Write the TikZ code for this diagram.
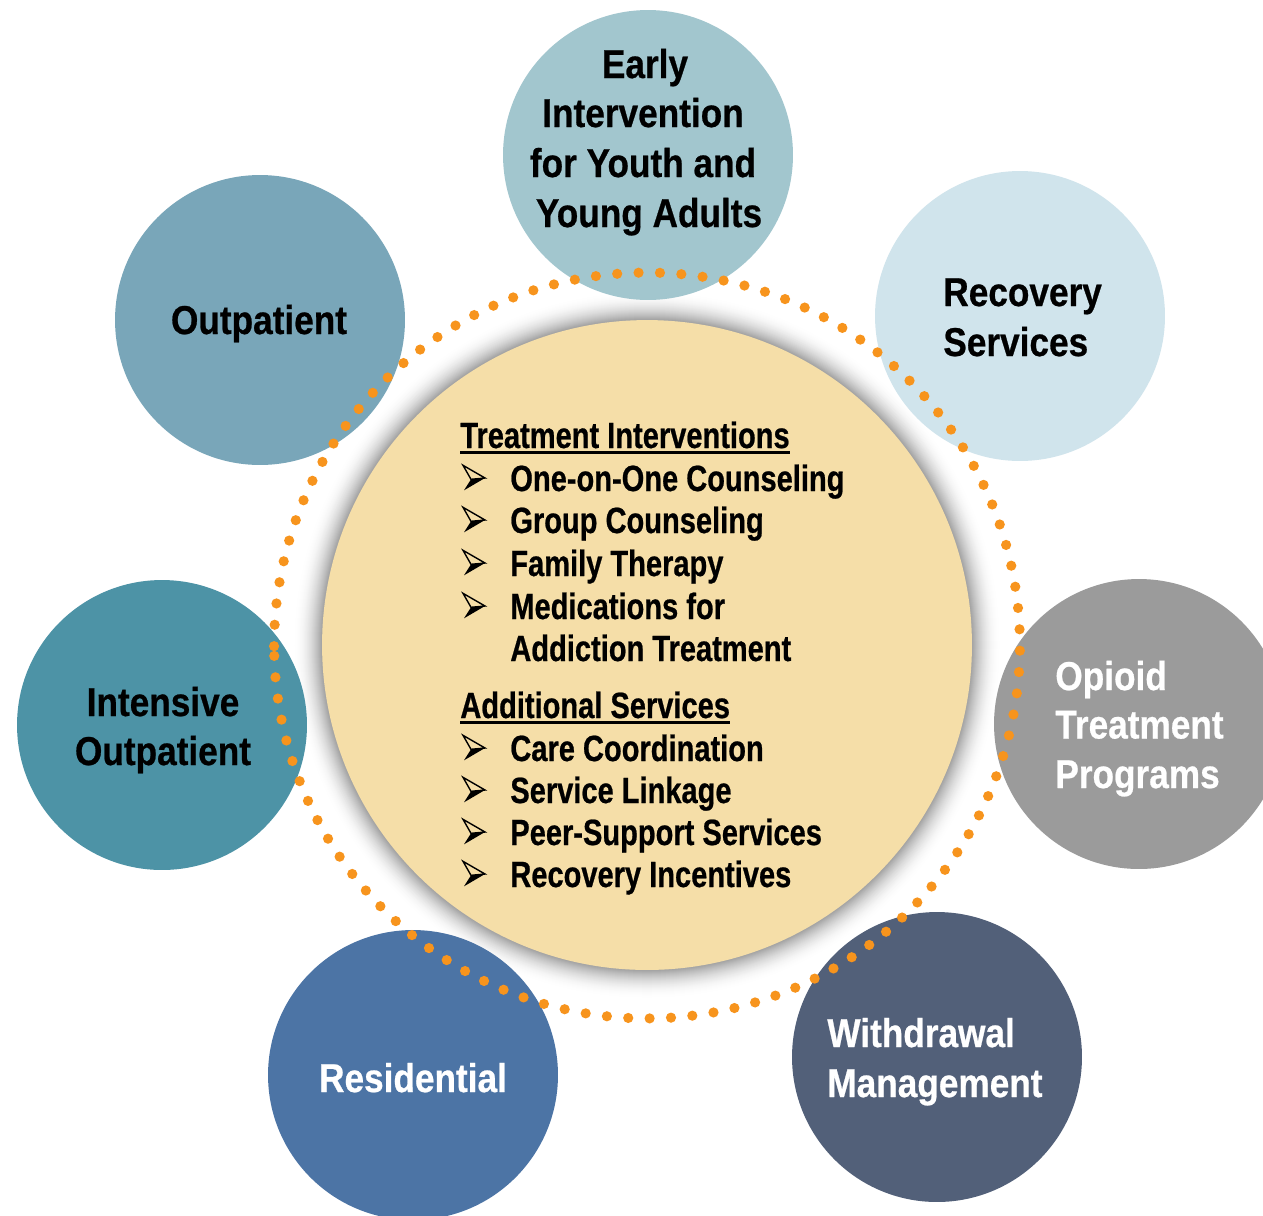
\documentclass[tikz,border=0pt]{standalone}
\usepackage{fontspec}
\newfontfamily\cenfont{Liberation Sans}[FakeStretch=0.795, FakeBold=0.6]
\newfontfamily\outfont{Liberation Sans}[FakeStretch=0.875, FakeBold=0.6]
\definecolor{cEarly}{HTML}{A2C6CE}
\definecolor{cRecov}{HTML}{D0E4EC}
\definecolor{cOpioid}{HTML}{9B9B9B}
\definecolor{cWithdr}{HTML}{526079}
\definecolor{cResid}{HTML}{4C74A5}
\definecolor{cIntens}{HTML}{4D93A6}
\definecolor{cOutp}{HTML}{79A6B9}
\definecolor{cCenter}{HTML}{F5DEA8}
\definecolor{cDot}{HTML}{F7941D}
\begin{document}
\begin{tikzpicture}[x=0.02cm,y=-0.02cm,
  outcirc/.style={circle, inner sep=0pt, minimum size=5.8cm},
  centext/.style={font=\cenfont\bfseries\fontsize{20.8}{24}\selectfont, inner sep=0pt, anchor=base west, text=black},
  outtext/.style={font=\outfont\bfseries\fontsize{22.9}{27}\selectfont, inner sep=0pt, anchor=base},
  outtextl/.style={outtext, anchor=base west},
  arrbullet/.pic={
    \fill[black] (-14,1.3) -- (-21,12.3) -- (0,0) -- cycle;
    \draw[black, line width=0.8pt, line join=miter] (0,0) -- (-22,-12.7) -- (-14,1.3) -- cycle;
  }]
\useasboundingbox (0,0) rectangle (1263,1215);
\clip (0,0) rectangle (1263,1215);
\fill[white] (0,0) rectangle (1263,1215);
% glow around the central circle
\foreach \d in {28,27,...,1} {
  \pgfmathsetmacro\p{38*(1-\d/29)^2}
  \pgfmathsetmacro\rr{(325+\d)*0.02}
  \fill[black!\p!white] (647,645) circle[radius=\rr cm];
}
\node[circle, inner sep=0pt, minimum size=13cm, fill=cCenter] (center) at (647,645) {};
% outer circles
\node[outcirc, fill=cEarly]  (early)  at (648,155) {};
\node[outcirc, fill=cRecov]  (recov)  at (1020,316) {};
\node[outcirc, fill=cOpioid] (opioid) at (1139,724) {};
\node[outcirc, fill=cWithdr] (withdr) at (937,1057) {};
\node[outcirc, fill=cResid]  (resid)  at (413,1075) {};
\node[outcirc, fill=cIntens] (intens) at (162,725) {};
\node[outcirc, fill=cOutp]   (outp)   at (260,320) {};
% dotted ring
\coordinate (ring) at (647,645.5);
\foreach \k in {0,...,109} {
  \pgfmathsetmacro\a{180.1-\k*3.289}
  \fill[cDot] (ring) ++(\a:7.46cm) circle[radius=0.102cm];
}
% outer texts
\node[outtext] (e1) at (645,78) {Early};
\node[outtext] (e2) at (643,127) {Intervention};
\node[outtext] (e3) at (643,177) {for Youth and};
\node[outtext] (e4) at (649,227) {Young Adults};
\node[outtextl] (r1) at (943,306) {Recovery};
\node[outtextl] (r2) at (943,356) {Services};
\node[outtextl, text=white] (o1) at (1055,690) {Opioid};
\node[outtextl, text=white] (o2) at (1055,738.5) {Treatment};
\node[outtextl, text=white] (o3) at (1055,788) {Programs};
\node[outtextl, text=white] (w1) at (827,1047) {Withdrawal};
\node[outtextl, text=white] (w2) at (827,1097) {Management};
\node[outtext, text=white] (res) at (413,1092) {Residential};
\node[outtext] (i1) at (163,716) {Intensive};
\node[outtext] (i2) at (163,765) {Outpatient};
\node[outtext] (op) at (259,334) {Outpatient};
% central texts
\node[centext] (h1) at (460,448) {Treatment Interventions};
\draw[line width=0.06cm] ([yshift=-0.094cm]h1.base west) -- ([yshift=-0.094cm]h1.base east);
\node[centext] (t1) at (510,491) {One-on-One Counseling};
\node[centext] (t2) at (510,533) {Group Counseling};
\node[centext] (t3) at (510,576) {Family Therapy};
\node[centext] (t4) at (510,619) {Medications for};
\node[centext] (t5) at (510,661) {Addiction Treatment};
\node[centext] (h2) at (460,718) {Additional Services};
\draw[line width=0.06cm] ([yshift=-0.094cm]h2.base west) -- ([yshift=-0.094cm]h2.base east);
\node[centext] (a1) at (510,761) {Care Coordination};
\node[centext] (a2) at (510,803) {Service Linkage};
\node[centext] (a3) at (510,845) {Peer-Support Services};
\node[centext] (a4) at (510,887) {Recovery Incentives};
\foreach \y in {478,520,563,606,748,790,832,874} {
  \pic at (485,\y) {arrbullet};
}
\end{tikzpicture}
\end{document}
